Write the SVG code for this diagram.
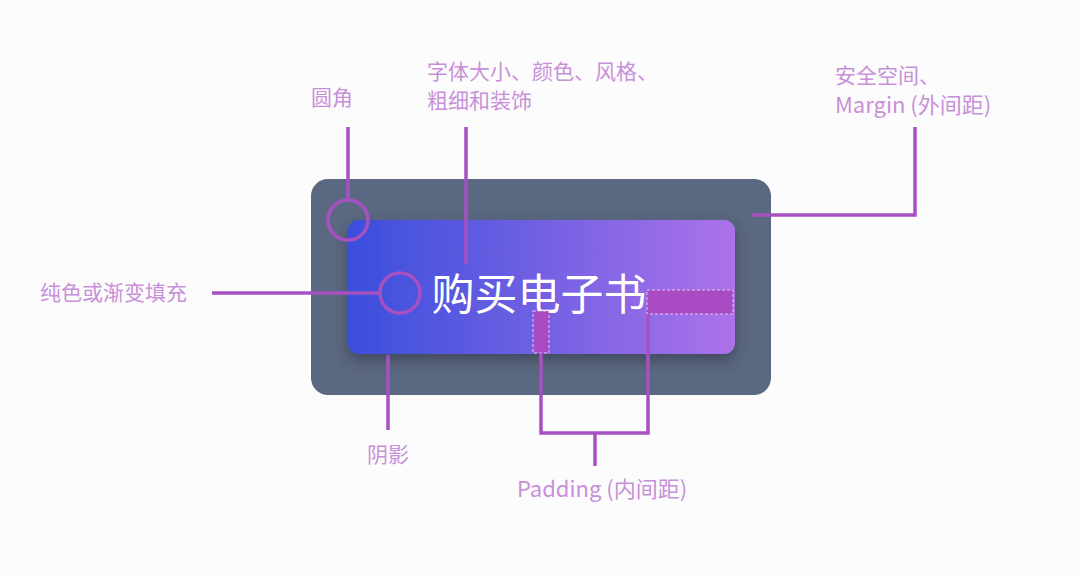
<svg xmlns="http://www.w3.org/2000/svg" width="1080" height="575" viewBox="0 0 1080 575">
<defs>
<linearGradient id="btnGrad" x1="0" y1="0" x2="1" y2="0">
<stop offset="0" stop-color="#3a4edc"/>
<stop offset="0.45" stop-color="#6c5fe2"/>
<stop offset="1" stop-color="#ad72ea"/>
</linearGradient>
<filter id="shadow" x="-10%" y="-20%" width="120%" height="150%">
<feDropShadow dx="0" dy="6" stdDeviation="7" flood-color="#2a3145" flood-opacity="0.6"/>
</filter>
<style>
.lbl{font-family:"Noto Sans CJK SC","Liberation Sans",sans-serif;font-size:21px;fill:#c790d8}
.lat{font-size:22px}
.ln{stroke:#a650c2;stroke-width:3.5;fill:none}
.pad{fill:#a94cc4;stroke:#e4c6f0;stroke-width:1;stroke-dasharray:3 2}
</style>
</defs>
<rect width="1080" height="575" fill="#fdfcfd"/>
<g id="outer">
<rect x="311" y="179" width="460" height="216" rx="17" fill="#5b6881"/>
</g>
<g id="button">
<rect x="348" y="220" width="387" height="134" rx="11" fill="url(#btnGrad)" filter="url(#shadow)"/>
<text x="539" y="310" text-anchor="middle" font-family="Noto Sans CJK SC, sans-serif" font-size="43" fill="#ffffff">购买电子书</text>
</g>
<g id="padding-marks">
<rect class="pad" x="533" y="311" width="16" height="42"/>
<rect class="pad" x="647" y="290" width="86" height="24"/>
</g>
<g id="connectors">
<line class="ln" x1="348" y1="127" x2="348" y2="199"/>
<circle class="ln" cx="348" cy="220" r="20"/>
<line class="ln" x1="466" y1="127" x2="466" y2="264"/>
<polyline class="ln" points="915,127 915,215 752,215"/>
<line class="ln" x1="212" y1="293" x2="380" y2="293"/>
<circle class="ln" cx="400" cy="293" r="20"/>
<line class="ln" x1="388" y1="355" x2="388" y2="430"/>
<polyline class="ln" points="541,353 541,433 648,433 648,314"/>
<line class="ln" x1="595" y1="433" x2="595" y2="466"/>
</g>
<g id="labels">
<text class="lbl" x="332" y="105" text-anchor="middle">圆角</text>
<text class="lbl" x="427" y="79">字体大小、颜色、风格、</text>
<text class="lbl" x="427" y="108">粗细和装饰</text>
<text class="lbl" x="835" y="83">安全空间、</text>
<text class="lbl lat" x="835" y="113">Margin (外间距)</text>
<text class="lbl" x="40" y="300">纯色或渐变填充</text>
<text class="lbl" x="388" y="462" text-anchor="middle">阴影</text>
<text class="lbl lat" x="602" y="497" text-anchor="middle">Padding (内间距)</text>
</g>
</svg>
